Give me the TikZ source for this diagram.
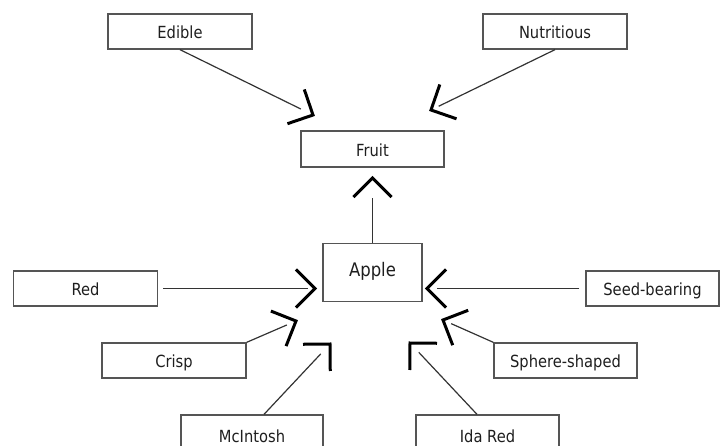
\documentclass[tikz,border=0pt]{standalone}
\usepackage{fontspec}
\setmainfont{DejaVu Sans}[FakeStretch=0.88]
\usetikzlibrary{calc}
\definecolor{boxgray}{HTML}{555555}
\definecolor{inkgray}{HTML}{1E1E1E}
\definecolor{linegray}{HTML}{333333}
% open right-angled barb drawn at a tip, opening towards the source point
\newcommand\barbhead[2]{\draw[barb] ($(#1)!27pt!45:(#2)$) -- (#1) -- ($(#1)!27pt!-45:(#2)$);}
\begin{document}
\begin{tikzpicture}[x=1pt,y=-1pt,
  box/.style={draw=boxgray, line width=1.3pt, minimum width=144pt, minimum height=35pt,
    inner sep=0pt, text=inkgray, text height=16pt, text depth=1.5pt,
    font=\fontsize{16.7}{20}\selectfont},
  conn/.style={draw=linegray, line width=1.2pt},
  barb/.style={draw=black, line width=3pt, line join=miter, line cap=butt}]
\useasboundingbox (0,0) rectangle (720,446);
\clip (0,0) rectangle (720,446);

% concept boxes
\node[box] (edible) at (180,31.5) {Edible};
\node[box] (nutritious) at (555,31.5) {Nutritious};
\node[box, minimum width=143pt, minimum height=36pt] (fruit) at (372.5,149) {Fruit};
\node[box, minimum width=99pt, minimum height=58pt, text height=12pt, text depth=3.5pt,
  font=\fontsize{18.7}{22}\selectfont] (apple) at (372.5,272.5) {Apple};
\node[box] (red) at (85.5,288.5) {Red};
\node[box] (crisp) at (174,360.5) {Crisp};
\node[box, minimum width=142pt, minimum height=40pt] (mcintosh) at (252,435) {McIntosh};
\node[box, minimum width=133pt] (seed) at (652.5,288.5) {Seed-bearing};
\node[box, minimum width=143pt] (sphere) at (565.5,360.5) {Sphere-shaped};
\node[box, minimum width=143pt, minimum height=40pt] (idared) at (487.5,435) {Ida Red};

% arrow tips (apex points)
\coordinate (tEd) at (313,115);
\coordinate (tNu) at (431,110);
\coordinate (tFr) at (372.5,178);
\coordinate (tRe) at (315,288.5);
\coordinate (tCr) at (296,321);
\coordinate (tMc) at (330,344);
\coordinate (tSe) at (427,288.5);
\coordinate (tSp) at (443,320);
\coordinate (tId) at (410,343);

% connectors
\draw[conn, shorten >=13.6pt] (edible.south) -- (tEd);
\draw[conn, shorten >=8.5pt] (nutritious.south) -- (tNu);
\draw[conn, shorten >=20pt] (apple.north) -- (tFr);
\draw[conn, shorten <=5pt, shorten >=7pt] (red.east) -- (tRe);
\draw[conn, shorten >=10pt] (crisp.north east) -- (tCr);
\draw[conn, shorten >=13.5pt] ([xshift=12pt]mcintosh.north) -- (tMc);
\draw[conn, shorten <=6pt, shorten >=10pt] (seed.west) -- (tSe);
\draw[conn, shorten >=9pt] (sphere.north west) -- (tSp);
\draw[conn, shorten >=12.8pt] ([xshift=-10.5pt]idared.north) -- (tId);

% arrowheads
\barbhead{tEd}{edible.south}
\barbhead{tNu}{nutritious.south}
\barbhead{tFr}{apple.north}
\barbhead{tRe}{red.east}
\barbhead{tCr}{crisp.north east}
\barbhead{tMc}{[xshift=9pt]mcintosh.north}
\barbhead{tSe}{seed.west}
\barbhead{tSp}{sphere.north west}
\barbhead{tId}{[xshift=-7.5pt]idared.north}
\end{tikzpicture}
\end{document}
